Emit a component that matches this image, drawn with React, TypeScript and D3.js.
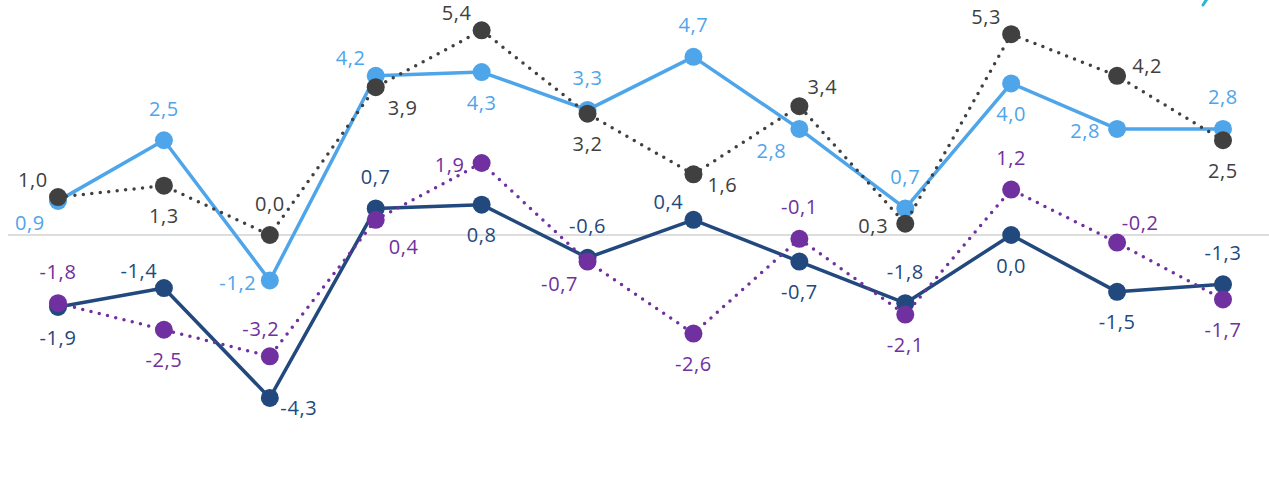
import React from "react";
import * as d3 from "d3";

const categories = ["1", "2", "3", "4", "5", "6", "7", "8", "9", "10", "11", "12"];
const lightBlue = [0.9, 2.5, -1.2, 4.2, 4.3, 3.3, 4.7, 2.8, 0.7, 4.0, 2.8, 2.8];
const darkGray = [1.0, 1.3, 0.0, 3.9, 5.4, 3.2, 1.6, 3.4, 0.3, 5.3, 4.2, 2.5];
const navy = [-1.9, -1.4, -4.3, 0.7, 0.8, -0.6, 0.4, -0.7, -1.8, 0.0, -1.5, -1.3];
const purple = [-1.8, -2.5, -3.2, 0.4, 1.9, -0.7, -2.6, -0.1, -2.1, 1.2, -0.2, -1.7];

// label placement codes (style)
const posLightBlue = ["bl", "t", "l", "tl", "b", "t", "t", "bl", "t", "b", "l", "t"];
const posDarkGray = ["tl", "b", "t", "br", "tl", "b", "rd", "tr", "l", "tl", "ru", "b"];
const posNavy = ["b", "tl", "rd", "t", "b", "t", "tl", "b", "t", "b", "b", "t"];
const posPurple = ["t", "b", "tt", "brr", "l", "bl", "b", "t", "b", "t", "tr", "b"];

const OFF: Record<string, [number, number]> = {
  t: [0, -32],
  tt: [-9, -28],
  b: [0, 30],
  l: [-32, 2],
  ru: [30, -10],
  rd: [29, 10],
  tl: [-25, -18],
  tr: [23, -20],
  bl: [-28, 22],
  br: [27, 20],
  brr: [28, 27],
};

const W = 1269;
const H = 498;

const x = d3.scaleLinear().domain([0, categories.length - 1]).range([58, 1223]);
const y = d3.scaleLinear().domain([0, 5]).range([235, 235 - 5 * 37.9]);

const fmt = (v: number) => v.toFixed(1).replace(".", ",");

type S = { values: number[]; pos: string[]; color: string; dotted: boolean };

const series: S[] = [
  { values: lightBlue, pos: posLightBlue, color: "#4EA5EA", dotted: false },
  { values: navy, pos: posNavy, color: "#22497D", dotted: false },
  { values: darkGray, pos: posDarkGray, color: "#404040", dotted: true },
  { values: purple, pos: posPurple, color: "#7030A0", dotted: true },
];

const line = d3
  .line<number>()
  .x((_, i) => x(i))
  .y((d) => y(d));

export default function App() {
  return (
    <svg
      width={W}
      height={H}
      style={{ position: "absolute", left: 0, top: 0, background: "#fff" }}
      fontFamily="'Open Sans', sans-serif"
    >
      <line x1={8} x2={W} y1={y(0)} y2={y(0)} stroke="#DDDDDD" strokeWidth={2} />
      <line x1={1203} y1={5} x2={1207} y2={-1} stroke="#2BB5DA" strokeWidth={3} strokeLinecap="round" />
      {series.map((s, si) => (
        <g key={si}>
          <path
            d={line(s.values) || ""}
            fill="none"
            stroke={s.color}
            strokeWidth={3.5}
            strokeLinecap="round"
            strokeLinejoin="round"
            strokeDasharray={s.dotted ? "0 8.5" : undefined}
          />
          {s.values.map((v, i) => (
            <circle key={i} cx={x(i)} cy={y(v)} r={9} fill={s.color} />
          ))}
        </g>
      ))}
      {series.map((s, si) => (
        <g key={"l" + si}>
          {s.values.map((v, i) => {
            const [dx, dy] = OFF[s.pos[i]];
            return (
              <text
                key={i}
                x={x(i) + dx}
                y={y(v) + dy}
                fill={s.color}
                fontSize={20}
                letterSpacing={0.6}
                textAnchor="middle"
                dominantBaseline="central"
              >
                {fmt(v)}
              </text>
            );
          })}
        </g>
      ))}
    </svg>
  );
}
